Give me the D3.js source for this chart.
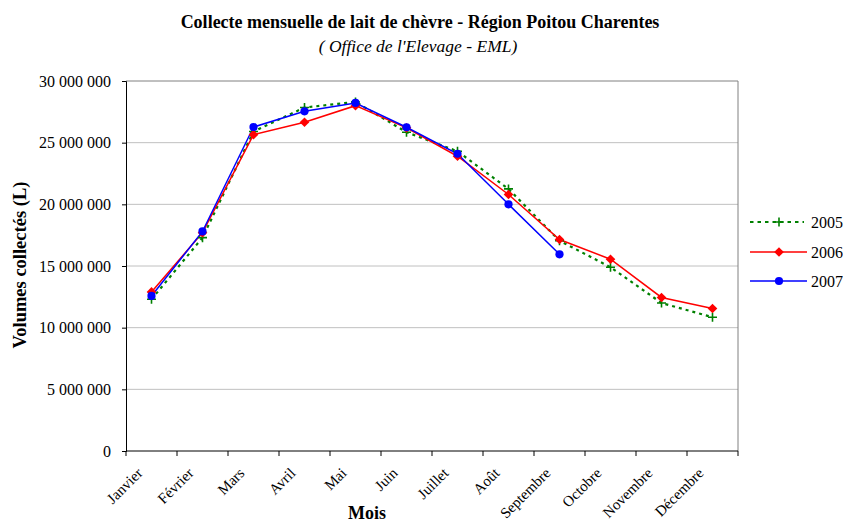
<!DOCTYPE html>
<html><head><meta charset="utf-8">
<script src="https://cdn.jsdelivr.net/npm/d3@7/dist/d3.min.js"></script>
<style>body{margin:0;background:#fff}svg{display:block}</style>
</head><body><svg id="c" width="843" height="522"></svg>
<script>
const months = ["Janvier","Février","Mars","Avril","Mai","Juin","Juillet","Août","Septembre","Octobre","Novembre","Décembre"];
const v2005 = [12300000,17300000,25900000,27850000,28300000,25850000,24300000,21250000,17050000,14900000,12000000,10850000];
const v2006 = [12900000,17700000,25650000,26650000,28000000,26200000,23900000,20800000,17150000,15550000,12450000,11550000];
const v2007 = [12570000,17800000,26270000,27540000,28220000,26250000,24100000,20000000,15950000];
const yTicks = [0,5000000,10000000,15000000,20000000,25000000,30000000];
const seriesNames = ["2005","2006","2007"];

const svg = d3.select("#c");
const L=126, R=738, T=81, B=451;
const FF = "Liberation Serif";
const x = d3.scaleBand().domain(months).range([L,R]);
const y = d3.scaleLinear().domain([0,30000000]).range([B,T]);
const fmt = v => d3.format(",")(v).replace(/,/g," ");

// gridlines
svg.append("g").selectAll("line").data(yTicks.slice(1)).join("line")
  .attr("x1",L).attr("x2",R).attr("y1",d=>y(d)).attr("y2",d=>y(d))
  .attr("stroke",d=>d===30000000?"#808080":"#c0c0c0").attr("stroke-width",1);
svg.append("line").attr("x1",R).attr("x2",R).attr("y1",T).attr("y2",B).attr("stroke","#808080");

// y axis
const ya = svg.append("g").attr("transform",`translate(${L},0)`)
  .call(d3.axisLeft(y).tickValues(yTicks).tickFormat(fmt).tickSize(4).tickPadding(11));
ya.select(".domain").attr("stroke","#000");
ya.selectAll("text").attr("font-family",FF).attr("font-size",16).attr("fill","#000");

// x axis
const xa = svg.append("g").attr("transform",`translate(0,${B})`);
xa.append("line").attr("x1",L).attr("x2",R).attr("stroke","#000");
xa.selectAll("line.t").data(d3.range(13)).join("line").attr("class","t")
  .attr("x1",i=>L+i*x.step()).attr("x2",i=>L+i*x.step()).attr("y1",0).attr("y2",5).attr("stroke","#000");
xa.selectAll("text").data(months).join("text")
  .attr("transform",d=>`translate(${x(d)+x.bandwidth()/2-8},${23}) rotate(-45)`)
  .attr("text-anchor","end").attr("font-family",FF).attr("font-size",15).text(d=>d);

// lines
const line = d3.line().x((d,i)=>x(months[i])+x.bandwidth()/2).y(d=>y(d));
svg.append("path").datum(v2005).attr("d",line).attr("fill","none").attr("stroke","#008000").attr("stroke-width",2.2).attr("stroke-dasharray","3,4");
svg.append("path").datum(v2006).attr("d",line).attr("fill","none").attr("stroke","#ff0000").attr("stroke-width",1.5);
svg.append("path").datum(v2007).attr("d",line).attr("fill","none").attr("stroke","#0000ff").attr("stroke-width",1.5);

function plus(g,cx,cy){g.append("path").attr("d",`M${cx-4.5},${cy}H${cx+4.5}M${cx},${cy-4.5}V${cy+4.5}`).attr("stroke","#008000").attr("stroke-width",1.6);}
function diamond(g,cx,cy){g.append("path").attr("d",`M${cx},${cy-4.8}L${cx+4.8},${cy}L${cx},${cy+4.8}L${cx-4.8},${cy}Z`).attr("fill","#ff0000");}
function circ(g,cx,cy){g.append("circle").attr("cx",cx).attr("cy",cy).attr("r",4.1).attr("fill","#0000ff");}
const mk = svg.append("g");
v2005.forEach((v,i)=>plus(mk,x(months[i])+x.bandwidth()/2,y(v)));
v2006.forEach((v,i)=>diamond(mk,x(months[i])+x.bandwidth()/2,y(v)));
v2007.forEach((v,i)=>circ(mk,x(months[i])+x.bandwidth()/2,y(v)));

// legend
const lg = svg.append("g");
const ly = [222,252,281];
lg.append("line").attr("x1",750).attr("x2",804).attr("y1",ly[0]).attr("y2",ly[0]).attr("stroke","#008000").attr("stroke-width",2.2).attr("stroke-dasharray","3.5,4");
plus(lg,779,ly[0]);
lg.append("line").attr("x1",750).attr("x2",807).attr("y1",ly[1]).attr("y2",ly[1]).attr("stroke","#ff0000").attr("stroke-width",1.5);
diamond(lg,779,ly[1]);
lg.append("line").attr("x1",750).attr("x2",807).attr("y1",ly[2]).attr("y2",ly[2]).attr("stroke","#0000ff").attr("stroke-width",1.5);
circ(lg,779,ly[2]);
lg.selectAll("text").data(seriesNames).join("text").attr("x",811).attr("y",(d,i)=>ly[i]+5.5)
  .attr("font-family",FF).attr("font-size",16).text(d=>d);

// titles
svg.append("text").attr("x",420).attr("y",28).attr("text-anchor","middle").attr("font-family",FF)
  .attr("font-weight","bold").attr("font-size",18).text("Collecte mensuelle de lait de chèvre - Région Poitou Charentes");
svg.append("text").attr("x",418).attr("y",52).attr("text-anchor","middle").attr("font-family",FF)
  .attr("font-style","italic").attr("font-size",17.5).text("( Office de l'Elevage - EML)");
svg.append("text").attr("x",367).attr("y",519).attr("text-anchor","middle").attr("font-family",FF)
  .attr("font-weight","bold").attr("font-size",18).text("Mois");
svg.append("text").attr("transform","translate(26,265) rotate(-90)").attr("text-anchor","middle").attr("font-family",FF)
  .attr("font-weight","bold").attr("font-size",18.5).text("Volumes collectés (L)");
</script></body></html>
